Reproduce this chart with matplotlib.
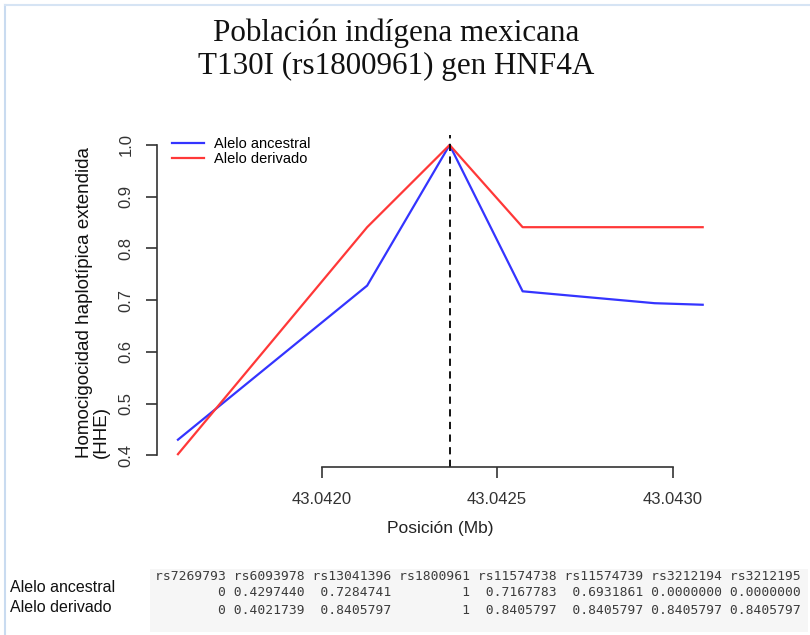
import numpy as np
import matplotlib
matplotlib.use('Agg')
import matplotlib.pyplot as plt
from matplotlib.lines import Line2D
from matplotlib.patches import Rectangle

# valores EHH por SNP (tabla de abajo)
snp_ids = ['rs7269793', 'rs6093978', 'rs13041396', 'rs1800961',
           'rs11574738', 'rs11574739', 'rs3212194', 'rs3212195']
ehh_anc_tabla = [0, 0.4297440, 0.7284741, 1, 0.7167783, 0.6931861, 0.0, 0.0]
ehh_der_tabla = [0, 0.4021739, 0.8405797, 1, 0.8405797, 0.8405797, 0.8405797, 0.8405797]
fila_labels = ['Alelo ancestral', 'Alelo derivado']

# curvas (posicion en Mb)
pos_anc = [43.041591, 43.042130, 43.042365, 43.042573, 43.042949, 43.043086]
ehh_anc = [0.430, 0.728, 1.0, 0.717, 0.694, 0.691]
pos_der = [43.041591, 43.042130, 43.042365, 43.042573, 43.043086]
ehh_der = [0.402, 0.841, 1.0, 0.841, 0.841]
pos_focal = 43.042365

xticks = [43.0420, 43.0425, 43.0430]
yticks = [0.4, 0.5, 0.6, 0.7, 0.8, 0.9, 1.0]

W, H = 810, 635
fig = plt.figure(figsize=(W / 100, H / 100), dpi=100)
plt.rcParams['font.family'] = ['Liberation Sans', 'DejaVu Sans']

def px(x, y):
    return x / W, 1 - y / H

# marco de la captura
fig.add_artist(Line2D([5 / W, 5 / W], [0, 1 - 5 / H], color='#c9dbf0', lw=1.5))
fig.add_artist(Line2D([5 / W, 1], [1 - 5 / H, 1 - 5 / H], color='#d6e4f4', lw=1.5))

l, b = px(157, 467)
r, t = px(724, 135)
ax = fig.add_axes([l, b, r - l, t - b])
ax.set_xlim(43.0415313, 43.0431467)
ax.set_ylim(0.3772, 1.0193)

ax.plot(pos_anc, ehh_anc, color='#3434ff', lw=1.6, label='Alelo ancestral')
ax.plot(pos_der, ehh_der, color='#ff3838', lw=1.6, label='Alelo derivado')
ax.axvline(pos_focal, color='black', lw=1.3, ls=(0, (4, 3)))

for s in ['top', 'right']:
    ax.spines[s].set_visible(False)
ax.spines['left'].set_bounds(0.4, 1.0)
ax.spines['bottom'].set_bounds(43.0420, 43.0430)
for s in ['left', 'bottom']:
    ax.spines[s].set_color('#333333')
    ax.spines[s].set_linewidth(1.2)

ax.set_xticks(xticks)
ax.set_xticklabels(['%.4f' % v for v in xticks])
ax.set_yticks(yticks)
ax.set_yticklabels(['%.1f' % v for v in yticks], va='center')
ax.tick_params(axis='both', length=8, width=1.2, color='#333333',
               labelsize=12, labelcolor='#333333')
ax.tick_params(axis='y', labelrotation=90, pad=9)
ax.tick_params(axis='x', pad=10)

ax.set_xlabel('Posición (Mb)', fontsize=12.5, color='#222222', labelpad=10)
fig.text(*px(93, 458), 'Homocigocidad haplotípica extendida\n(HHE)', rotation=90,
         rotation_mode='anchor', ha='left', va='center', multialignment='left',
         fontsize=13.5, color='#111111', linespacing=1.02)

ax.legend(loc='upper left', bbox_to_anchor=px(172, 137), bbox_transform=fig.transFigure,
          frameon=False, fontsize=10.5, handlelength=2.2, handletextpad=0.65,
          borderpad=0, borderaxespad=0, labelspacing=0.1)

fig.text(*px(396, 50), 'Población indígena mexicana\nT130I (rs1800961) gen HNF4A',
         ha='center', va='center', fontsize=22.4, family='Liberation Serif',
         color='#111111', linespacing=1.17)

# tabla impresa estilo R
fig.add_artist(Rectangle(px(150, 632), (808 - 150) / W, (632 - 569) / H,
                         facecolor='#f6f6f6', edgecolor='none'))

def fmt_col(vals):
    if all(float(v).is_integer() for v in vals):
        return ['%d' % v for v in vals]
    return ['%.7f' % v for v in vals]

cols = []
for name, a, d in zip(snp_ids, ehh_anc_tabla, ehh_der_tabla):
    vals = fmt_col([a, d])
    w = max(len(name), *[len(v) for v in vals])
    cols.append([name.rjust(w)] + [v.rjust(w) for v in vals])
filas = [' '.join(c[i] for c in cols) for i in range(3)]
for fila, y in zip(filas, [577, 593, 610]):
    fig.text(*px(155, y), fila, ha='left', va='center', family='DejaVu Sans Mono',
             fontsize=9.4, color='#3c3c3c')

for lab, y in zip(fila_labels, [588, 607]):
    fig.text(*px(10, y), lab, ha='left', va='center', fontsize=11.5, color='#111111')

fig.savefig('out.png', dpi=100, facecolor='white')
